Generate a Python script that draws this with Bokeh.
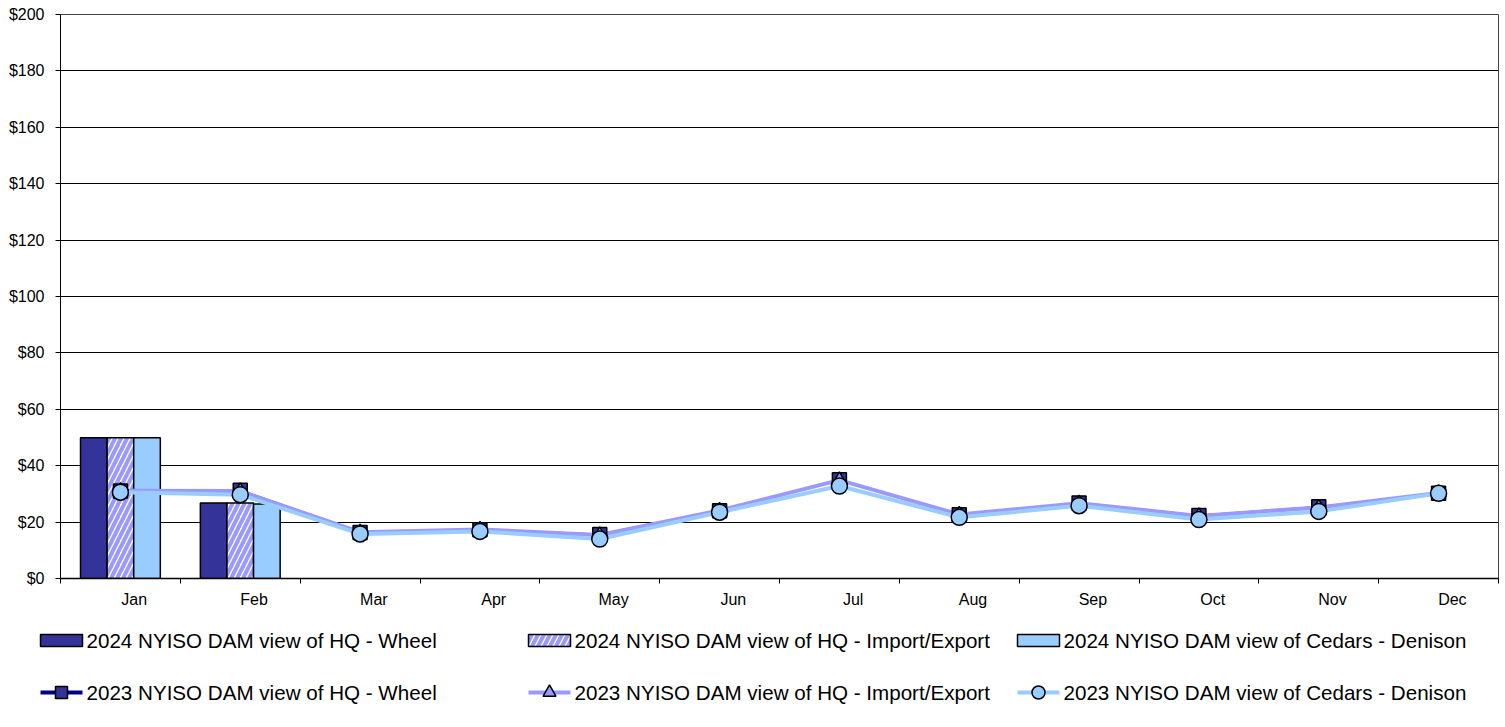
from bokeh.plotting import figure
from bokeh.models import (ColumnDataSource, Range1d, FixedTicker, NumeralTickFormatter,
                          CustomJSTickFormatter)
from bokeh.core.properties import value
from bokeh.transform import dodge
from bokeh.embed import file_html
from bokeh.resources import INLINE

nan = float("nan")

months = ["Jan", "Feb", "Mar", "Apr", "May", "Jun", "Jul", "Aug", "Sep", "Oct", "Nov", "Dec"]

# 2024 bars (only Jan, Feb available)
hq_wheel_2024 = [49.9, 26.8, nan, nan, nan, nan, nan, nan, nan, nan, nan, nan]
hq_impexp_2024 = [49.9, 26.8, nan, nan, nan, nan, nan, nan, nan, nan, nan, nan]
cedars_2024 = [49.9, 26.4, nan, nan, nan, nan, nan, nan, nan, nan, nan, nan]

# 2023 lines
hq_wheel_2023 = [31.0, 31.3, 16.3, 17.3, 15.6, 24.0, 35.0, 22.6, 26.8, 22.3, 25.4, 30.2]
hq_impexp_2023 = [31.1, 31.0, 16.4, 17.4, 15.4, 24.1, 34.9, 22.7, 26.7, 22.2, 25.2, 30.3]
cedars_2023 = [30.6, 29.7, 15.8, 16.7, 14.0, 23.5, 32.8, 21.7, 25.8, 20.9, 23.8, 30.2]

y_ticks = [0, 20, 40, 60, 80, 100, 120, 140, 160, 180, 200]

labels_2024 = ["2024 NYISO DAM view of HQ - Wheel",
               "2024 NYISO DAM view of HQ - Import/Export",
               "2024 NYISO DAM view of Cedars - Denison"]
labels_2023 = ["2023 NYISO DAM view of HQ - Wheel",
               "2023 NYISO DAM view of HQ - Import/Export",
               "2023 NYISO DAM view of Cedars - Denison"]

# styles
C_WHEEL = "#333399"
C_IMPEXP = "#9999FF"
C_CEDARS = "#99CCFF"
C_WHEEL_LINE = "#000080"
FONT = "Liberation Sans"
W = 1503
H_MAIN = 610
H_LEG = 112

idx = list(range(len(months)))
src = ColumnDataSource(dict(x=idx, w24=hq_wheel_2024, i24=hq_impexp_2024, c24=cedars_2024,
                            w23=hq_wheel_2023, i23=hq_impexp_2023, c23=cedars_2023))

p = figure(width=W, height=H_MAIN, output_backend="svg", toolbar_location=None,
           x_range=Range1d(-0.5, len(months) - 0.5), y_range=Range1d(0, 200),
           min_border_left=60, min_border_right=5, min_border_top=14, min_border_bottom=31)
p.background_fill_color = "white"
p.border_fill_color = "white"
p.outline_line_color = "#444444"
p.outline_line_width = 1

bar_style = dict(line_color="black", line_width=1.5)
hatch_style = dict(fill_color="white", hatch_pattern="/", hatch_color=C_IMPEXP,
                   hatch_weight=4, hatch_scale=12)
bw = 0.222
p.vbar(x=dodge("x", -bw, range=p.x_range), top="w24", width=bw, source=src,
       fill_color=C_WHEEL, **bar_style)
p.vbar(x="x", top="i24", width=bw, source=src, **hatch_style, **bar_style)
p.vbar(x=dodge("x", bw, range=p.x_range), top="c24", width=bw, source=src,
       fill_color=C_CEDARS, **bar_style)

p.line("x", "w23", source=src, line_color=C_WHEEL_LINE, line_width=2)
p.line("x", "i23", source=src, line_color=C_IMPEXP, line_width=4)
p.line("x", "c23", source=src, line_color=C_CEDARS, line_width=4)

sq_style = dict(marker="square", size=14, fill_color=C_WHEEL, line_color="black", line_width=1.5)
tri_style = dict(marker="triangle", size=14, fill_color=C_IMPEXP, line_color="black", line_width=1.5)
cir_style = dict(marker="circle", size=16, fill_color=C_CEDARS, line_color="black", line_width=1.5)
p.scatter("x", "w23", source=src, **sq_style)
p.scatter("x", "i23", source=src, **tri_style)
p.scatter("x", "c23", source=src, **cir_style)

# axes
p.xgrid.visible = False
p.ygrid.ticker = FixedTicker(ticks=y_ticks)
p.ygrid.grid_line_color = "black"
p.ygrid.grid_line_width = 1

p.yaxis.ticker = FixedTicker(ticks=y_ticks)
p.yaxis.formatter = NumeralTickFormatter(format="$0")
p.yaxis.major_tick_out = 5
p.yaxis.major_tick_in = 0
p.yaxis.minor_tick_line_color = None
p.yaxis.major_label_standoff = 11
p.yaxis.axis_line_color = "black"
p.yaxis.major_tick_line_color = "black"
p.yaxis.major_label_text_font = FONT
p.yaxis.major_label_text_font_size = "16px"
p.yaxis.major_label_text_color = "black"

LABEL_SHIFT = 0.115
p.xaxis.ticker = FixedTicker(ticks=[i + LABEL_SHIFT for i in idx],
                             minor_ticks=[i - 0.5 for i in range(len(months) + 1)])
p.xaxis.formatter = CustomJSTickFormatter(args=dict(months=months),
                                          code="return months[Math.round(tick - 0.115)];")
p.xaxis.major_tick_out = 0
p.xaxis.major_tick_in = 0
p.xaxis.major_tick_line_color = None
p.xaxis.minor_tick_out = 5
p.xaxis.minor_tick_in = 0
p.xaxis.minor_tick_line_color = "black"
p.xaxis.axis_line_color = "black"
p.xaxis.axis_line_width = 1.5
p.xaxis.major_label_standoff = 7
p.xaxis.major_label_text_font = FONT
p.xaxis.major_label_text_font_size = "16px"
p.xaxis.major_label_text_color = "black"

# legend panel (screen-pixel coordinates, y grows downward); separate root so frames are not aligned
Y0 = H_MAIN
lf = figure(width=W, height=H_LEG, output_backend="svg", toolbar_location=None,
            x_range=Range1d(0, W), y_range=Range1d(Y0 + H_LEG, Y0),
            x_axis_type=None, y_axis_type=None, min_border=0, outline_line_color=None)
lf.grid.visible = False
lf.background_fill_color = "white"
lf.border_fill_color = "white"

col_x = [40, 528, 1017]      # legend column left edges
sw_w = 42                    # swatch width
row1_y, row2_y = 640, 692    # legend row centres
txt_dx = 46

# row 1: bar swatches
lf.quad(left=[col_x[0]], right=[col_x[0] + sw_w], top=[row1_y - 6], bottom=[row1_y + 6],
        fill_color=C_WHEEL, **bar_style)
lf.quad(left=[col_x[1]], right=[col_x[1] + sw_w], top=[row1_y - 6], bottom=[row1_y + 6],
        **hatch_style, **bar_style)
lf.quad(left=[col_x[2]], right=[col_x[2] + sw_w], top=[row1_y - 6], bottom=[row1_y + 6],
        fill_color=C_CEDARS, **bar_style)

# row 2: line + marker swatches
lf.segment(x0=[col_x[0]], x1=[col_x[0] + sw_w], y0=[row2_y], y1=[row2_y],
           line_color=C_WHEEL_LINE, line_width=4)
lf.segment(x0=[col_x[1]], x1=[col_x[1] + sw_w], y0=[row2_y], y1=[row2_y],
           line_color=C_IMPEXP, line_width=4)
lf.segment(x0=[col_x[2]], x1=[col_x[2] + sw_w], y0=[row2_y], y1=[row2_y],
           line_color=C_CEDARS, line_width=4)
lf.scatter(x=[col_x[0] + sw_w / 2], y=[row2_y], **dict(sq_style, size=12))
lf.scatter(x=[col_x[1] + sw_w / 2], y=[row2_y], **dict(tri_style, size=13))
lf.scatter(x=[col_x[2] + sw_w / 2], y=[row2_y], **dict(cir_style, size=13))

txt_style = dict(text_font=value(FONT), text_font_size="20.6px", text_color="black",
                 text_baseline="middle", text_align="left")
lf.text(x=[c + txt_dx for c in col_x], y=[row1_y] * 3, text=labels_2024, **txt_style)
lf.text(x=[c + txt_dx for c in col_x], y=[row2_y] * 3, text=labels_2023, **txt_style)

open("out.html", "w").write(file_html([p, lf], INLINE))
